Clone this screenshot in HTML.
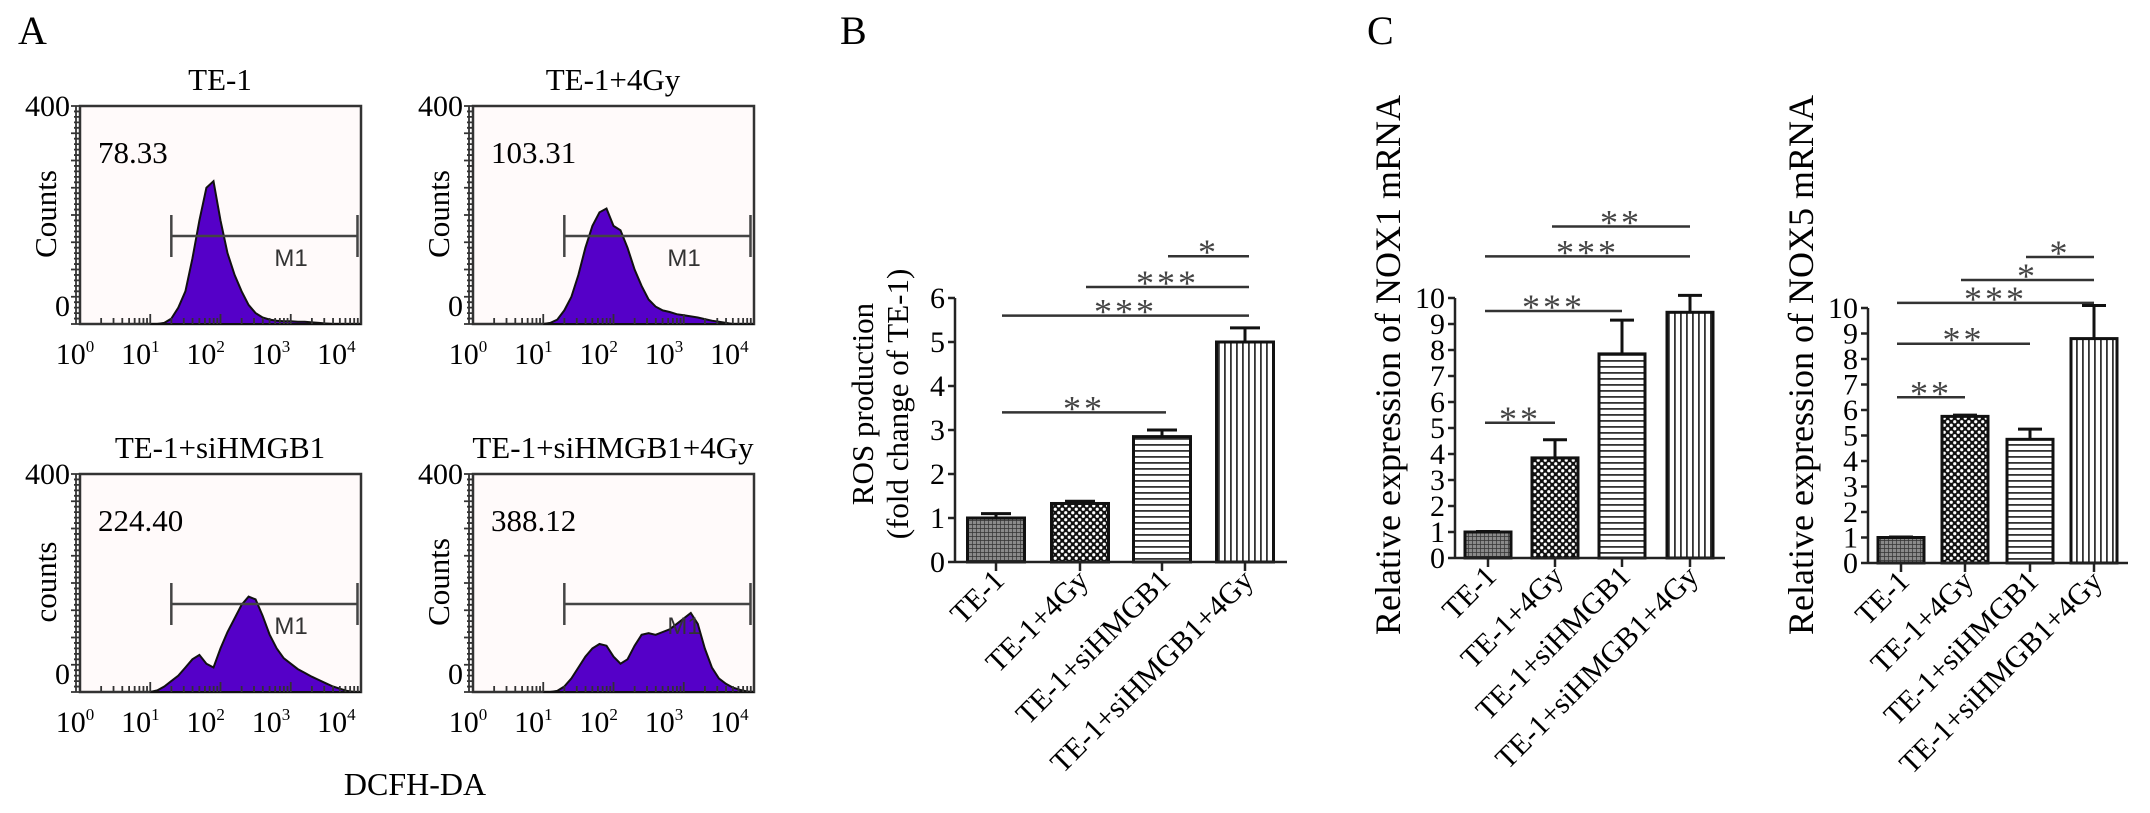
<!DOCTYPE html>
<html><head><meta charset="utf-8"><style>
html,body{margin:0;padding:0;background:#fff;}
svg{display:block;font-family:"Liberation Serif",serif;}
</style></head><body>
<svg id="fig" width="2150" height="813" viewBox="0 0 2150 813" xmlns="http://www.w3.org/2000/svg">
<defs>
<pattern id="pat1" width="4" height="4" patternUnits="userSpaceOnUse"><rect width="4" height="4" fill="#8a8a8a"/><path d="M0 0H4M0 0V4" stroke="#333" stroke-width="1.4"/></pattern>
<pattern id="pat2" width="7" height="7" patternUnits="userSpaceOnUse"><rect width="7" height="7" fill="#111"/><circle cx="1.75" cy="1.75" r="1.6" fill="#fff"/><circle cx="5.25" cy="5.25" r="1.6" fill="#fff"/></pattern>
<pattern id="pat3" width="6" height="6" patternUnits="userSpaceOnUse"><rect width="6" height="6" fill="#fff"/><rect y="0" width="6" height="1.8" fill="#333"/></pattern>
<pattern id="pat4" width="6" height="6" patternUnits="userSpaceOnUse"><rect width="6" height="6" fill="#fff"/><rect x="0" width="1.8" height="6" fill="#333"/></pattern>
</defs>
<text x="18" y="44" font-size="40">A</text>
<text x="840" y="44" font-size="40">B</text>
<text x="1367" y="44" font-size="40">C</text>
<text x="415" y="795" font-size="32" text-anchor="middle">DCFH-DA</text>
<g id="gA"></g><g id="gB"></g><g id="gC1"></g><g id="gC2"></g>
</svg>
<script>
// ---- Panel A histogram data (log10 fluorescence bins, counts) ----
const histBins = [1.0,1.1,1.2,1.3,1.4,1.5,1.6,1.7,1.8,1.9,2.0,2.1,2.2,2.3,2.4,2.5,2.6,2.7,2.8,2.9,3.0,3.1,3.2,3.3,3.4,3.5,3.6,3.7,3.8,3.9,4.0];
const histTE1 = [0,0,2,10,30,60,120,190,250,262,190,130,90,60,35,20,12,8,6,5,5,4,4,3,2,1,0,0,0,0,0];
const histTE14Gy = [0,2,8,25,50,90,140,180,205,212,180,172,140,100,70,45,32,25,22,18,16,14,12,9,6,4,2,0,0,0,0];
const histSi = [0,3,10,20,30,45,60,68,52,45,80,110,135,160,175,170,140,105,80,62,52,42,35,28,22,16,10,6,2,0,0];
const histSi4Gy = [0,0,2,10,25,45,65,80,88,85,65,52,60,85,105,108,105,110,115,125,135,145,125,80,45,25,15,8,4,1,0];
const histTitles = ["TE-1","TE-1+4Gy","TE-1+siHMGB1","TE-1+siHMGB1+4Gy"];
const histMeans = ["78.33","103.31","224.40","388.12"];
const histYLabels = ["Counts","Counts","counts","Counts"];
const gateRange = [1.3, 3.95];

// ---- Panel B ----
const catLabels = ["TE-1","TE-1+4Gy","TE-1+siHMGB1","TE-1+siHMGB1+4Gy"];
const rosValues = [1.0, 1.33, 2.85, 5.0];
const rosErrors = [0.1, 0.05, 0.15, 0.32];
const rosTicks = [0,1,2,3,4,5,6];
const rosSig = [["**",0,2,3.4],["***",0,3,5.6],["***",1,3,6.25],["*",2,3,6.95]];

// ---- Panel C ----
const nox1Values = [1.0, 3.85, 7.85, 9.45];
const nox1Errors = [0.02, 0.7, 1.3, 0.65];
const nox1Sig = [["**",0,1,5.2],["***",0,2,9.5],["***",0,3,11.6],["**",1,3,12.75]];
const nox5Values = [1.0, 5.75, 4.85, 8.8];
const nox5Errors = [0.02, 0.05, 0.4, 1.3];
const nox5Sig = [["**",0,1,6.5],["**",0,2,8.6],["***",0,3,10.2],["*",1,3,11.1],["*",2,3,12.0]];
const noxTicks = [0,1,2,3,4,5,6,7,8,9,10];

const NS="http://www.w3.org/2000/svg";
function mk(tag, attrs, parent){const e=document.createElementNS(NS,tag);for(const k in attrs)e.setAttribute(k,attrs[k]);if(parent)parent.appendChild(e);return e;}

// ---------- Panel A ----------
const gA=document.getElementById('gA');
const hists=[histTE1,histTE14Gy,histSi,histSi4Gy];
const boxes=[[80,106],[473,106],[80,474],[473,474]];
const BW=281, BH=218;
hists.forEach((h,i)=>{
  const [bx,by]=boxes[i];
  const xs=v=>bx+v/4*BW;
  const ys=c=>by+BH-c/400*BH;
  const g=mk('g',{},gA);
  
  
  const t=mk('text',{x:bx+140,y:by-16,'font-size':31,'text-anchor':'middle'},g);
  t.textContent=histTitles[i];
  
  
  const fr=mk('rect',{x:bx,y:by,width:BW,height:BH,fill:'#fffafa',stroke:'#333','stroke-width':2.5},g);
  
  
  let d='M'+xs(histBins[0])+' '+ys(0);
  h.forEach((c,j)=>{d+=' L'+xs(histBins[j]).toFixed(1)+' '+ys(c).toFixed(1);});
  d+=' L'+xs(histBins[histBins.length-1])+' '+ys(0)+' Z';
  const p=mk('path',{d:d,fill:'#5500c8',stroke:'#111','stroke-width':2},g);
  
  
  const gy=by+130, gx1=xs(gateRange[0]), gx2=xs(gateRange[1]);
  const gl=mk('path',{d:`M${gx1} ${gy}H${gx2}M${gx1} ${gy-21}V${gy+21}M${gx2} ${gy-21}V${gy+21}`,stroke:'#444','stroke-width':2.5,fill:'none'},g);
  
  
  const m1=mk('text',{x:(gx1+gx2)/2+10,y:gy+30,'font-size':24,'font-family':'Liberation Sans, sans-serif',fill:'#333'},g);
  m1.textContent='M1';
  
  
  const mt=mk('text',{x:bx+18,y:by+57,'font-size':31},g);
  mt.textContent=histMeans[i];
  
  
  let yd=`M${bx-4} ${by}V${by+BH}`;
  for(let k=0;k<=40;k++){const yy=by+k*BH/40;yd+=`M${bx-(k%5==0?9:6)} ${yy}H${bx}`;}
  let xd='';
  for(let dec=0;dec<4;dec++){for(let m=1;m<10;m++){const xx=xs(dec+Math.log10(m));xd+=`M${xx} ${by+BH}V${by+BH-(m==1?10:6)}`;}}
  xd+=`M${xs(4)} ${by+BH}V${by+BH-10}`;
  const ax=mk('path',{d:yd+xd,stroke:'#333','stroke-width':1.8,fill:'none'},g);
  
  
  const l4=mk('text',{x:bx-10,y:by+10,'font-size':30,'text-anchor':'end'},g);l4.textContent='400';
  
  
  const l0=mk('text',{x:bx-10,y:by+BH-8,'font-size':30,'text-anchor':'end'},g);l0.textContent='0';
  
  
  const yl=mk('text',{x:0,y:0,'font-size':31,'text-anchor':'middle',transform:`translate(${bx-24},${by+108}) rotate(-90)`},g);
  yl.textContent=histYLabels[i];
  
  
  for(let k=0;k<=4;k++){
    const tx=mk('text',{x:bx-5+k*BW/4*0.93,y:by+BH+40,'font-size':30,'text-anchor':'middle'},g);
    tx.innerHTML='10<tspan dy="-12" font-size="17">'+k+'</tspan>';
    
    
  }
});

// ---------- Bar charts ----------
function barChart(gid, cfg){
  const g=document.getElementById(gid);
  const {ax0,y0,yTop,vMax,xEnd,centers,barW,values,errors,ticks,sig,titleX,titleLines,fs,capW}=cfg;
  const ys=v=>y0-(v/vMax)*(y0-yTop);
  const pats=['url(#pat1)','url(#pat2)','url(#pat3)','url(#pat4)'];
  values.forEach((v,i)=>{
    const cx=centers[i];
    const r=mk('rect',{x:cx-barW/2,y:ys(v),width:barW,height:y0-ys(v),fill:pats[i],stroke:'#111','stroke-width':3},g);
    
    
    const e=mk('path',{d:`M${cx} ${ys(v)}V${ys(v+errors[i])}M${cx-capW/2} ${ys(v+errors[i])}H${cx+capW/2}`,stroke:'#111','stroke-width':3,fill:'none'},g);
    
    
    const lb=mk('text',{x:0,y:0,'font-size':30,'text-anchor':'end',transform:`translate(${cx+10},${y0+20}) rotate(-45)`},g);
    lb.textContent=catLabels[i];
    
    
  });
  let d=`M${ax0} ${y0}V${ys(ticks[ticks.length-1])}M${ax0} ${y0}H${xEnd}`;
  ticks.forEach(t=>{d+=`M${ax0-7} ${ys(t)}H${ax0}`;});
  centers.forEach(c=>{d+=`M${c} ${y0}V${y0+9}`;});
  const a=mk('path',{d:d,stroke:'#222','stroke-width':2.5,fill:'none'},g);
  
  
  ticks.forEach(t=>{
    const tl=mk('text',{x:ax0-10,y:ys(t)+10,'font-size':fs,'text-anchor':'end'},g);
    tl.textContent=t;
    
    
  });
  sig.forEach(s=>{
    const x1=centers[s[1]]+cfg.sigOff[0], x2=centers[s[2]]+cfg.sigOff[1], yy=ys(s[3]);
    const l=mk('path',{d:`M${x1} ${yy}H${x2}`,stroke:'#333','stroke-width':2.5},g);
    
    
    const st=mk('text',{x:(x1+x2)/2,y:yy+8,'font-size':36,'text-anchor':'middle','letter-spacing':'3',fill:'#444'},g);
    st.textContent=s[0];
    
    
  });
  titleLines.forEach((tl,k)=>{
    const t=mk('text',{x:0,y:0,'font-size':cfg.titleFs,'text-anchor':'middle',transform:`translate(${titleX[k]},${cfg.titleY}) rotate(-90)`},g);
    t.textContent=tl;
    
    
  });
}
barChart('gB',{ax0:955,y0:562,yTop:298,vMax:6,xEnd:1287,centers:[996,1080,1162,1245],barW:57,values:rosValues,errors:rosErrors,ticks:rosTicks,sig:rosSig,fs:30,capW:30,titleLines:["ROS production","(fold change of TE-1)"],titleX:[873,908],titleY:404,titleFs:31,sigOff:[6,4]});
barChart('gC1',{ax0:1455,y0:558,yTop:298,vMax:10,xEnd:1725,centers:[1488,1555,1622,1690],barW:46,values:nox1Values,errors:nox1Errors,ticks:noxTicks,sig:nox1Sig,fs:30,capW:24,titleLines:["Relative expression of NOX1 mRNA"],titleX:[1400],titleY:365,titleFs:36,sigOff:[-3,0]});
barChart('gC2',{ax0:1868,y0:563,yTop:308,vMax:10,xEnd:2128,centers:[1901,1965,2030,2094],barW:46,values:nox5Values,errors:nox5Errors,ticks:noxTicks,sig:nox5Sig,fs:30,capW:24,titleLines:["Relative expression of NOX5 mRNA"],titleX:[1813],titleY:365,titleFs:36,sigOff:[-4,0]});
</script>
</body></html>
